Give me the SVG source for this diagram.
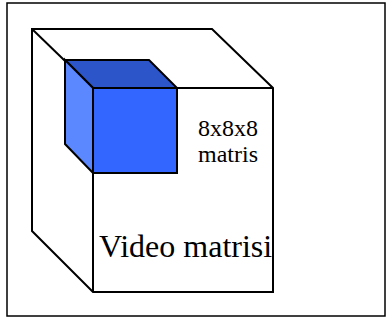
<svg xmlns="http://www.w3.org/2000/svg" width="390" height="320" viewBox="0 0 390 320">
<style>
.ln{fill:none;stroke:#000;stroke-width:2;stroke-linejoin:miter}
.t{font-family:"Liberation Serif","Times New Roman",serif;fill:#000}
</style>
<rect width="390" height="320" fill="#fff"/>
<g id="frame"><rect x="7" y="3" width="378" height="313" fill="#fff" stroke="#000" stroke-width="1.5"/></g>
<g id="big-cube">
<polygon class="ln" fill="#fff" points="32,29 212,29 273,88 273,292 93,292 32,231"/>
<line class="ln" x1="32" y1="29" x2="93" y2="88"/>
<line class="ln" x1="93" y1="88" x2="273" y2="88"/>
<line class="ln" x1="93" y1="88" x2="93" y2="292"/>
</g>
<g id="small-cube">
<polygon points="65,60 149,60 177,88 93,88" fill="#2B55C8" stroke="#000" stroke-width="2" stroke-linejoin="miter"/>
<polygon points="65,60 93,88 93,173 65,144" fill="#5B87FF" stroke="#000" stroke-width="2" stroke-linejoin="miter"/>
<rect x="93" y="88" width="84" height="85" fill="#3366FF" stroke="#000" stroke-width="2"/>
</g>
<g id="labels">
<text class="t" x="228" y="136" font-size="24" text-anchor="middle">8x8x8</text>
<text class="t" x="228" y="162" font-size="24" text-anchor="middle">matris</text>
<text class="t" x="99" y="257" font-size="32">Video matrisi</text>
</g>
</svg>
